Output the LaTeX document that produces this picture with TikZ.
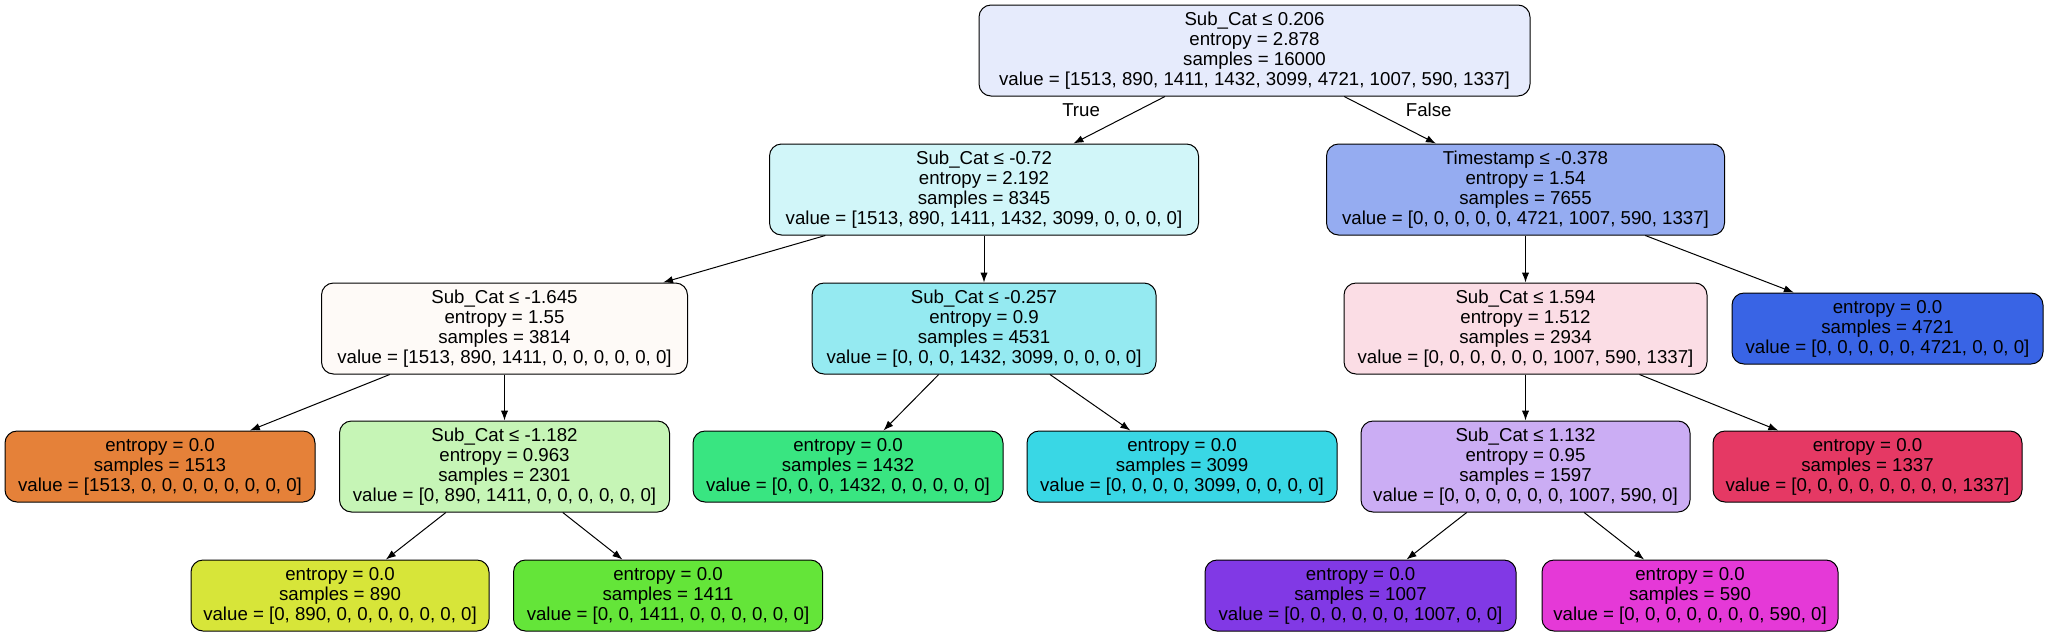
\documentclass[tikz,border=0pt]{standalone}
\usepackage{fontspec}
\setmainfont{Liberation Sans}
\usetikzlibrary{arrows.meta}

\definecolor{rootcol}{RGB}{230,235,252}
\definecolor{t1col}{RGB}{209,246,249}
\definecolor{t2col}{RGB}{149,172,241}
\definecolor{t3col}{RGB}{254,250,247}
\definecolor{t4col}{RGB}{149,234,241}
\definecolor{t5col}{RGB}{251,221,229}
\definecolor{t6col}{RGB}{198,245,182}
\definecolor{t7col}{RGB}{203,173,244}
\definecolor{c0col}{RGB}{229,129,57}
\definecolor{c1col}{RGB}{215,229,57}
\definecolor{c2col}{RGB}{100,229,57}
\definecolor{c3col}{RGB}{57,229,129}
\definecolor{c4col}{RGB}{57,215,229}
\definecolor{c5col}{RGB}{57,100,229}
\definecolor{c6col}{RGB}{129,57,229}
\definecolor{c7col}{RGB}{229,57,215}
\definecolor{c8col}{RGB}{229,57,100}

\begin{document}
\begin{tikzpicture}[
x=0.75pt, y=-0.75pt,
treenode/.style={
  draw,
  line width=0.75pt,
  rounded corners=9pt,
  align=center,
  inner sep=0pt,
  font=\fontsize{14}{15}\selectfont
  },
splitnode/.style={treenode, minimum height=68.25pt},
leafnode/.style={treenode, minimum height=53.25pt},
boxwidth/.style={minimum width=#1*0.75pt},
edgelabel/.style={inner sep=0pt, font=\fontsize{14}{15}\selectfont},
every edge/.append style={line width=0.75pt}
]
\useasboundingbox (0,0) rectangle (2047,636);

% split nodes
\node[splitnode,boxwidth=551,fill=rootcol] (root) at (1254.5,50.5)
  {Sub\_Cat ≤ 0.206\\entropy = 2.878\\samples = 16000\\value = [1513, 890, 1411, 1432, 3099, 4721, 1007, 590, 1337]};
\node[splitnode,boxwidth=429,fill=t1col] (t1) at (984,189.5)
  {Sub\_Cat ≤ -0.72\\entropy = 2.192\\samples = 8345\\value = [1513, 890, 1411, 1432, 3099, 0, 0, 0, 0]};
\node[splitnode,boxwidth=398,fill=t2col] (t2) at (1525.5,189.5)
  {Timestamp ≤ -0.378\\entropy = 1.54\\samples = 7655\\value = [0, 0, 0, 0, 0, 4721, 1007, 590, 1337]};
\node[splitnode,boxwidth=366,fill=t3col] (t3) at (504.5,328.5)
  {Sub\_Cat ≤ -1.645\\entropy = 1.55\\samples = 3814\\value = [1513, 890, 1411, 0, 0, 0, 0, 0, 0]};
\node[splitnode,boxwidth=344,fill=t4col] (t4) at (984,328.5)
  {Sub\_Cat ≤ -0.257\\entropy = 0.9\\samples = 4531\\value = [0, 0, 0, 1432, 3099, 0, 0, 0, 0]};
\node[splitnode,boxwidth=363,fill=t5col] (t5) at (1525.5,328.5)
  {Sub\_Cat ≤ 1.594\\entropy = 1.512\\samples = 2934\\value = [0, 0, 0, 0, 0, 0, 1007, 590, 1337]};
\node[splitnode,boxwidth=330,fill=t6col] (t6) at (504.5,466.5)
  {Sub\_Cat ≤ -1.182\\entropy = 0.963\\samples = 2301\\value = [0, 890, 1411, 0, 0, 0, 0, 0, 0]};
\node[splitnode,boxwidth=329,fill=t7col] (t7) at (1525.5,466.5)
  {Sub\_Cat ≤ 1.132\\entropy = 0.95\\samples = 1597\\value = [0, 0, 0, 0, 0, 0, 1007, 590, 0]};

% leaves
\foreach \Name/\X/\Y/\W/\Samples/\Value in {
  c0/160/466.5/310/1513/{1513, 0, 0, 0, 0, 0, 0, 0, 0},
  c1/340/595.5/298/890/{0, 890, 0, 0, 0, 0, 0, 0, 0},
  c2/668/595.5/309/1411/{0, 0, 1411, 0, 0, 0, 0, 0, 0},
  c3/848/466.5/310/1432/{0, 0, 0, 1432, 0, 0, 0, 0, 0},
  c4/1182/466.5/310/3099/{0, 0, 0, 0, 3099, 0, 0, 0, 0},
  c5/1887.5/328.5/311/4721/{0, 0, 0, 0, 0, 4721, 0, 0, 0},
  c6/1360.5/595.5/311/1007/{0, 0, 0, 0, 0, 0, 1007, 0, 0},
  c7/1690/595.5/296/590/{0, 0, 0, 0, 0, 0, 0, 590, 0},
  c8/1867.5/466.5/309/1337/{0, 0, 0, 0, 0, 0, 0, 0, 1337}}
  \node[leafnode,boxwidth=\W,fill=\Name col] (\Name) at (\X,\Y)
    {entropy = 0.0\\samples = \Samples\\value = [\Value]};

\path[-{Latex[length=7.5pt,width=5.5pt]}]
  (root) edge node[edgelabel,pos=0.29,left=28.5pt] {True} (t1)
  (root) edge node[edgelabel,pos=0.29,right=26pt] {False} (t2)
  (t1) edge (t3)
  (t1) edge (t4)
  (t2) edge (t5)
  (t2) edge (c5)
  (t3) edge (c0)
  (t3) edge (t6)
  (t4) edge (c3)
  (t4) edge (c4)
  (t5) edge (t7)
  (t5) edge (c8)
  (t6) edge (c1)
  (t6) edge (c2)
  (t7) edge (c6)
  (t7) edge (c7);
\end{tikzpicture}
\end{document}
